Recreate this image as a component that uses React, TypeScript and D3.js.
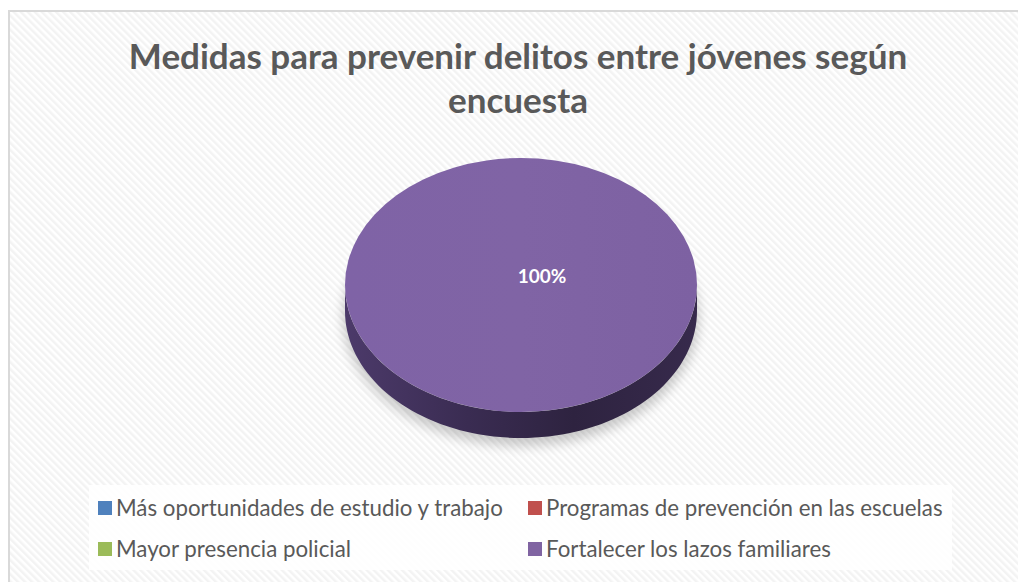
import React, { useEffect, useRef } from 'react';
import * as d3 from 'd3';

const titleLines = ['Medidas para prevenir delitos entre jóvenes según', 'encuesta'];
const categories = [
  'Más oportunidades de estudio y trabajo',
  'Programas de prevención en las escuelas',
  'Mayor presencia policial',
  'Fortalecer los lazos familiares',
];
const values = [0, 0, 0, 100];
const colors = ['#4f81bd', '#c0504d', '#9bbb59', '#8064a2'];

const W = 1018;
const H = 582;

export default function App() {
  const ref = useRef<SVGSVGElement | null>(null);

  useEffect(() => {
    if (!ref.current) return;
    const svg = d3.select(ref.current);
    svg.selectAll('*').remove();

    const defs = svg.append('defs');

    // diagonal hatch background
    const pat = defs.append('pattern')
      .attr('id', 'hatch')
      .attr('width', 5)
      .attr('height', 5)
      .attr('patternUnits', 'userSpaceOnUse')
      .attr('patternTransform', 'rotate(-45)');
    pat.append('rect').attr('width', 5).attr('height', 5).attr('fill', '#ffffff');
    pat.append('rect').attr('width', 2.5).attr('height', 5).attr('fill', '#f3f3f3');

    const side = defs.append('linearGradient').attr('id', 'side').attr('x1', '0%').attr('x2', '100%');
    side.append('stop').attr('offset', '0%').attr('stop-color', '#4c3a6a');
    side.append('stop').attr('offset', '35%').attr('stop-color', '#3a2c52');
    side.append('stop').attr('offset', '65%').attr('stop-color', '#2e2340');
    side.append('stop').attr('offset', '100%').attr('stop-color', '#372a4c');

    const topGrad = defs.append('linearGradient').attr('id', 'topface').attr('x1', '0%').attr('x2', '100%');
    topGrad.append('stop').attr('offset', '0%').attr('stop-color', '#7f63a6');
    topGrad.append('stop').attr('offset', '50%').attr('stop-color', '#8064a5');
    topGrad.append('stop').attr('offset', '100%').attr('stop-color', '#7d61a2');

    const blur = defs.append('filter').attr('id', 'shadow').attr('x', '-20%').attr('y', '-20%').attr('width', '140%').attr('height', '140%');
    blur.append('feGaussianBlur').attr('stdDeviation', 6);

    // chart area
    svg.append('rect')
      .attr('x', 9).attr('y', 11).attr('width', W).attr('height', H)
      .attr('fill', 'url(#hatch)')
      .attr('stroke', '#d9d9d9').attr('stroke-width', 2);

    // title
    const title = svg.append('text')
      .attr('text-anchor', 'middle')
      .attr('font-family', 'Lato, "Open Sans", sans-serif')
      .attr('font-weight', 'bold')
      .attr('font-size', 35)
      .attr('fill', '#595959');
    titleLines.forEach((t, i) => {
      title.append('tspan').attr('x', 518).attr('y', 69 + i * 44).text(t);
    });

    // pie
    const cx = 521;
    const cy = 285;
    const rx = 176;
    const ry = 127;
    const depth = 26;

    const pie = d3.pie<number>().sort(null).value(d => d);
    const arcs = pie(values).map((a, i) => ({ ...a, i })).filter(a => a.value > 0);

    const g = svg.append('g').attr('transform', `translate(${cx},${cy})`);

    // soft shadow
    g.append('ellipse')
      .attr('cx', 0).attr('cy', depth + 6).attr('rx', rx + 2).attr('ry', ry + 2)
      .attr('fill', '#000').attr('opacity', 0.2)
      .attr('filter', 'url(#shadow)');

    const pt = (a: number, dy = 0): [number, number] => [rx * Math.sin(a), -ry * Math.cos(a) + dy];

    arcs.forEach(a => {
      const s = Math.max(a.startAngle, Math.PI / 2);
      const e = Math.min(a.endAngle, 3 * Math.PI / 2);
      if (e > s) {
        const steps = 80;
        const angles = d3.range(steps + 1).map(k => s + (e - s) * k / steps);
        const topPts = angles.map(t => pt(t));
        const botPts = angles.slice().reverse().map(t => pt(t, depth));
        const line = d3.line();
        g.append('path')
          .attr('d', line([...topPts, ...botPts])! + 'Z')
          .attr('fill', 'url(#side)');
      }
    });

    const arc = d3.arc<d3.PieArcDatum<number>>().innerRadius(0).outerRadius(rx);
    arcs.forEach(a => {
      g.append('path')
        .attr('d', arc(a) as string)
        .attr('transform', `scale(1,${ry / rx})`)
        .attr('fill', a.i === 3 ? 'url(#topface)' : colors[a.i]);
    });

    const total = d3.sum(values);
    arcs.forEach(a => {
      g.append('text')
        .attr('x', 21)
        .attr('y', -9)
        .attr('dy', '0.35em')
        .attr('text-anchor', 'middle')
        .attr('font-family', 'Lato, "Open Sans", sans-serif')
        .attr('font-weight', 'bold')
        .attr('font-size', 19)
        .attr('fill', '#ffffff')
        .text(d3.format('.0%')(a.value / total));
    });

    // legend
    svg.append('rect')
      .attr('x', 89).attr('y', 485).attr('width', 863).attr('height', 85)
      .attr('fill', '#ffffff').attr('opacity', 0.85);

    const colX = [98, 528];
    const rowY = [508, 549];
    categories.forEach((c, i) => {
      const lg = svg.append('g')
        .attr('transform', `translate(${colX[i % 2]},${rowY[Math.floor(i / 2)]})`);
      lg.append('rect').attr('x', 0).attr('y', -7).attr('width', 14).attr('height', 14).attr('fill', colors[i]);
      lg.append('text')
        .attr('x', 18).attr('y', 0).attr('dy', '0.35em')
        .attr('font-family', 'Lato, "Open Sans", sans-serif')
        .attr('font-size', 22.3)
        .attr('fill', '#595959')
        .text(c);
    });
  }, []);

  return (
    <svg
      ref={ref}
      width={W}
      height={H}
      style={{ position: 'absolute', left: 0, top: 0, display: 'block' }}
    />
  );
}
